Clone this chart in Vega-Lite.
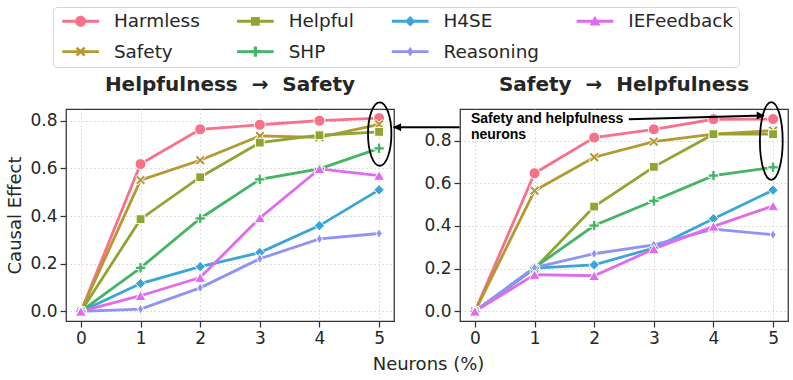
{
  "$schema": "https://vega.github.io/schema/vega-lite/v6.json",
  "background": "white",
  "padding": {"left": 6, "top": 6, "right": 5, "bottom": 6},
  "datasets": {
    "main": [
      {"panel": "L", "series": "Harmless", "x": 0, "y": 0},
      {"panel": "L", "series": "Harmless", "x": 1, "y": 0.618},
      {"panel": "L", "series": "Harmless", "x": 2, "y": 0.764},
      {"panel": "L", "series": "Harmless", "x": 3, "y": 0.783},
      {"panel": "L", "series": "Harmless", "x": 4, "y": 0.8},
      {"panel": "L", "series": "Harmless", "x": 5, "y": 0.811},
      {"panel": "L", "series": "Safety", "x": 0, "y": 0},
      {"panel": "L", "series": "Safety", "x": 1, "y": 0.551},
      {"panel": "L", "series": "Safety", "x": 2, "y": 0.634},
      {"panel": "L", "series": "Safety", "x": 3, "y": 0.736},
      {"panel": "L", "series": "Safety", "x": 4, "y": 0.73},
      {"panel": "L", "series": "Safety", "x": 5, "y": 0.785},
      {"panel": "L", "series": "Helpful", "x": 0, "y": 0},
      {"panel": "L", "series": "Helpful", "x": 1, "y": 0.387},
      {"panel": "L", "series": "Helpful", "x": 2, "y": 0.563},
      {"panel": "L", "series": "Helpful", "x": 3, "y": 0.708},
      {"panel": "L", "series": "Helpful", "x": 4, "y": 0.739},
      {"panel": "L", "series": "Helpful", "x": 5, "y": 0.753},
      {"panel": "L", "series": "SHP", "x": 0, "y": 0},
      {"panel": "L", "series": "SHP", "x": 1, "y": 0.183},
      {"panel": "L", "series": "SHP", "x": 2, "y": 0.39},
      {"panel": "L", "series": "SHP", "x": 3, "y": 0.554},
      {"panel": "L", "series": "SHP", "x": 4, "y": 0.598},
      {"panel": "L", "series": "SHP", "x": 5, "y": 0.684},
      {"panel": "L", "series": "H4SE", "x": 0, "y": 0},
      {"panel": "L", "series": "H4SE", "x": 1, "y": 0.117},
      {"panel": "L", "series": "H4SE", "x": 2, "y": 0.188},
      {"panel": "L", "series": "H4SE", "x": 3, "y": 0.247},
      {"panel": "L", "series": "H4SE", "x": 4, "y": 0.36},
      {"panel": "L", "series": "H4SE", "x": 5, "y": 0.51},
      {"panel": "L", "series": "Reasoning", "x": 0, "y": 0},
      {"panel": "L", "series": "Reasoning", "x": 1, "y": 0.01},
      {"panel": "L", "series": "Reasoning", "x": 2, "y": 0.099},
      {"panel": "L", "series": "Reasoning", "x": 3, "y": 0.221},
      {"panel": "L", "series": "Reasoning", "x": 4, "y": 0.304},
      {"panel": "L", "series": "Reasoning", "x": 5, "y": 0.327},
      {"panel": "L", "series": "IEFeedback", "x": 0, "y": 0},
      {"panel": "L", "series": "IEFeedback", "x": 1, "y": 0.066},
      {"panel": "L", "series": "IEFeedback", "x": 2, "y": 0.142},
      {"panel": "L", "series": "IEFeedback", "x": 3, "y": 0.392},
      {"panel": "L", "series": "IEFeedback", "x": 4, "y": 0.598},
      {"panel": "L", "series": "IEFeedback", "x": 5, "y": 0.57},
      {"panel": "R", "series": "Harmless", "x": 0, "y": 0},
      {"panel": "R", "series": "Harmless", "x": 1, "y": 0.647},
      {"panel": "R", "series": "Harmless", "x": 2, "y": 0.814},
      {"panel": "R", "series": "Harmless", "x": 3, "y": 0.853},
      {"panel": "R", "series": "Harmless", "x": 4, "y": 0.9},
      {"panel": "R", "series": "Harmless", "x": 5, "y": 0.901},
      {"panel": "R", "series": "Safety", "x": 0, "y": 0},
      {"panel": "R", "series": "Safety", "x": 1, "y": 0.565},
      {"panel": "R", "series": "Safety", "x": 2, "y": 0.722},
      {"panel": "R", "series": "Safety", "x": 3, "y": 0.795},
      {"panel": "R", "series": "Safety", "x": 4, "y": 0.83},
      {"panel": "R", "series": "Safety", "x": 5, "y": 0.847},
      {"panel": "R", "series": "Helpful", "x": 0, "y": 0},
      {"panel": "R", "series": "Helpful", "x": 1, "y": 0.2},
      {"panel": "R", "series": "Helpful", "x": 2, "y": 0.491},
      {"panel": "R", "series": "Helpful", "x": 3, "y": 0.677},
      {"panel": "R", "series": "Helpful", "x": 4, "y": 0.83},
      {"panel": "R", "series": "Helpful", "x": 5, "y": 0.83},
      {"panel": "R", "series": "SHP", "x": 0, "y": 0},
      {"panel": "R", "series": "SHP", "x": 1, "y": 0.205},
      {"panel": "R", "series": "SHP", "x": 2, "y": 0.402},
      {"panel": "R", "series": "SHP", "x": 3, "y": 0.518},
      {"panel": "R", "series": "SHP", "x": 4, "y": 0.636},
      {"panel": "R", "series": "SHP", "x": 5, "y": 0.675},
      {"panel": "R", "series": "H4SE", "x": 0, "y": 0},
      {"panel": "R", "series": "H4SE", "x": 1, "y": 0.203},
      {"panel": "R", "series": "H4SE", "x": 2, "y": 0.218},
      {"panel": "R", "series": "H4SE", "x": 3, "y": 0.297},
      {"panel": "R", "series": "H4SE", "x": 4, "y": 0.434},
      {"panel": "R", "series": "H4SE", "x": 5, "y": 0.568},
      {"panel": "R", "series": "Reasoning", "x": 0, "y": 0},
      {"panel": "R", "series": "Reasoning", "x": 1, "y": 0.205},
      {"panel": "R", "series": "Reasoning", "x": 2, "y": 0.27},
      {"panel": "R", "series": "Reasoning", "x": 3, "y": 0.312},
      {"panel": "R", "series": "Reasoning", "x": 4, "y": 0.385},
      {"panel": "R", "series": "Reasoning", "x": 5, "y": 0.359},
      {"panel": "R", "series": "IEFeedback", "x": 0, "y": 0},
      {"panel": "R", "series": "IEFeedback", "x": 1, "y": 0.172},
      {"panel": "R", "series": "IEFeedback", "x": 2, "y": 0.167},
      {"panel": "R", "series": "IEFeedback", "x": 3, "y": 0.292},
      {"panel": "R", "series": "IEFeedback", "x": 4, "y": 0.398},
      {"panel": "R", "series": "IEFeedback", "x": 5, "y": 0.494}
    ]
  },
  "resolve": {"scale": {"x": "independent", "y": "independent", "color": "shared", "shape": "shared"}},
  "bounds": "flush",
  "spacing": 66,
  "title": {
    "text": "Neurons (%)",
    "orient": "bottom",
    "anchor": "middle",
    "frame": "bounds",
    "dx": 31,
    "font": "DejaVu Sans",
    "fontSize": 18,
    "fontWeight": "normal",
    "color": "#262626",
    "baseline": "alphabetic",
    "offset": 23
  },
  "hconcat": [
    {
      "width": 328,
      "height": 212,
      "title": {"text": "Helpfulness\u00a0\u00a0→\u00a0\u00a0Safety"},
      "layer": [
        {
          "data": {"name": "main"},
          "transform": [{"filter": "datum.panel === 'L'"}],
          "mark": {"type": "line", "strokeWidth": 2.8},
          "encoding": {
            "x": {"field": "x", "type": "quantitative", "scale": {"domain": [-0.25, 5.25], "nice": false, "zero": false}, "axis": {"values": [0, 1, 2, 3, 4, 5], "title": null, "format": "d"}},
            "y": {"field": "y", "type": "quantitative", "scale": {"domain": [-0.04, 0.849], "nice": false, "zero": false}, "axis": {"values": [0, 0.2, 0.4, 0.6, 0.8], "format": ".1f", "title": "Causal Effect"}},
            "color": {"field": "series", "type": "nominal",
              "scale": {"domain": ["Harmless", "Helpful", "H4SE", "IEFeedback", "Safety", "SHP", "Reasoning"], "range": ["#f7718a", "#8fa531", "#3aa5d6", "#df6cf0", "#b5982f", "#45b464", "#8f93f3"]},
              "legend": {
                "encode": {
                  "symbols": {
                    "update": {
                      "shape": {"signal": "datum.value==='Harmless'?'M-2.04,-0.16H2.04V0.16H-2.04Z M-0.61,0A0.61,0.61,0,1,1,0.61,0A0.61,0.61,0,1,1,-0.61,0Z':datum.value==='Safety'?'M-2.04,-0.16H2.04V0.16H-2.04Z M-0.55,-0.34L-0.34,-0.55L0,-0.21L0.34,-0.55L0.55,-0.34L0.21,0L0.55,0.34L0.34,0.55L0,0.21L-0.34,0.55L-0.55,0.34L-0.21,0Z':datum.value==='Helpful'?'M-2.04,-0.16H2.04V0.16H-2.04Z M-0.49,-0.49H0.49V0.49H-0.49Z':datum.value==='SHP'?'M-2.04,-0.16H2.04V0.16H-2.04Z M-0.18,-0.58H0.18V-0.18H0.58V0.18H0.18V0.58H-0.18V0.18H-0.58V-0.18H-0.18Z':datum.value==='H4SE'?'M-2.04,-0.16H2.04V0.16H-2.04Z M0,-0.58L0.58,0L0,0.58L-0.58,0Z':datum.value==='Reasoning'?'M-2.04,-0.16H2.04V0.16H-2.04Z M0,-0.55L0.34,0L0,0.55L-0.34,0Z':'M-2.04,-0.16H2.04V0.16H-2.04Z M0,-0.61L0.61,0.46L-0.61,0.46Z'"},
                      "size": {"value": 324},
                      "fill": {"scale": "color", "field": "value"},
                      "stroke": {"value": "transparent"},
                      "strokeWidth": {"value": 0},
                      "opacity": {"value": 1}
                    }
                  }
                }
              }
            }
          }
        },
        {
          "data": {"name": "main"},
          "transform": [{"filter": "datum.panel === 'L'"}],
          "mark": {"type": "point", "filled": true, "size": 121, "stroke": "white", "strokeWidth": 1, "opacity": 1},
          "encoding": {
            "x": {"field": "x", "type": "quantitative"},
            "y": {"field": "y", "type": "quantitative"},
            "color": {"field": "series", "type": "nominal"},
            "shape": {"field": "series", "type": "nominal",
              "scale": {"domain": ["Harmless", "Safety", "Helpful", "SHP", "H4SE", "Reasoning", "IEFeedback"],
                "range": ["circle", "M-0.9,-0.55L-0.55,-0.9L0,-0.35L0.55,-0.9L0.9,-0.55L0.35,0L0.9,0.55L0.55,0.9L0,0.35L-0.55,0.9L-0.9,0.55L-0.35,0Z", "M-0.8,-0.8H0.8V0.8H-0.8Z", "M-0.3,-0.95H0.3V-0.3H0.95V0.3H0.3V0.95H-0.3V0.3H-0.95V-0.3H-0.3Z", "M0,-0.95L0.95,0L0,0.95L-0.95,0Z", "M0,-0.9L0.55,0L0,0.9L-0.55,0Z", "triangle-up"]},
              "legend": null}
          }
        },
        {
          "data": {"values": [{"x": 5.01, "y": 0.744}]},
          "mark": {"type": "point", "shape": "M-0.369,0A0.369,1,0,1,1,0.369,0A0.369,1,0,1,1,-0.369,0Z", "size": 4020, "filled": false, "stroke": "black", "strokeWidth": 1.8, "opacity": 1},
          "encoding": {"x": {"field": "x", "type": "quantitative"}, "y": {"field": "y", "type": "quantitative"}}
        },
        {
          "data": {"values": [{"x": 5.24, "y": 0.772}, {"x": 6.35, "y": 0.772}]},
          "mark": {"type": "line", "color": "black", "strokeWidth": 2},
          "encoding": {"x": {"field": "x", "type": "quantitative"}, "y": {"field": "y", "type": "quantitative"}}
        },
        {
          "data": {"values": [{"x": 5.234, "y": 0.772}]},
          "mark": {"type": "point", "shape": "M0,0L2,-1L2,1Z", "size": 64, "filled": true, "color": "black", "opacity": 1},
          "encoding": {"x": {"field": "x", "type": "quantitative"}, "y": {"field": "y", "type": "quantitative"}}
        }
      ]
    },
    {
      "width": 328,
      "height": 212,
      "title": {"text": "Safety\u00a0\u00a0→\u00a0\u00a0Helpfulness"},
      "layer": [
        {
          "data": {"name": "main"},
          "transform": [{"filter": "datum.panel === 'R'"}],
          "mark": {"type": "line", "strokeWidth": 2.8},
          "encoding": {
            "x": {"field": "x", "type": "quantitative", "scale": {"domain": [-0.25, 5.25], "nice": false, "zero": false}, "axis": {"values": [0, 1, 2, 3, 4, 5], "title": null, "format": "d"}},
            "y": {"field": "y", "type": "quantitative", "scale": {"domain": [-0.045, 0.948], "nice": false, "zero": false}, "axis": {"values": [0, 0.2, 0.4, 0.6, 0.8], "format": ".1f", "title": null}},
            "color": {"field": "series", "type": "nominal"}
          }
        },
        {
          "data": {"name": "main"},
          "transform": [{"filter": "datum.panel === 'R'"}],
          "mark": {"type": "point", "filled": true, "size": 121, "stroke": "white", "strokeWidth": 1, "opacity": 1},
          "encoding": {
            "x": {"field": "x", "type": "quantitative"},
            "y": {"field": "y", "type": "quantitative"},
            "color": {"field": "series", "type": "nominal"},
            "shape": {"field": "series", "type": "nominal", "legend": null}
          }
        },
        {
          "data": {"values": [{"x": 4.97, "y": 0.798}]},
          "mark": {"type": "point", "shape": "M-0.293,0A0.293,1,0,1,1,0.293,0A0.293,1,0,1,1,-0.293,0Z", "size": 6053, "filled": false, "stroke": "black", "strokeWidth": 1.8, "opacity": 1},
          "encoding": {"x": {"field": "x", "type": "quantitative"}, "y": {"field": "y", "type": "quantitative"}}
        },
        {
          "data": {"values": [{"x": 2.581, "y": 0.9}, {"x": 4.84, "y": 0.917}]},
          "mark": {"type": "line", "color": "black", "strokeWidth": 2},
          "encoding": {"x": {"field": "x", "type": "quantitative"}, "y": {"field": "y", "type": "quantitative"}}
        },
        {
          "data": {"values": [{"x": 4.86, "y": 0.917}]},
          "mark": {"type": "point", "shape": "M0,0L-2,-1L-2,1Z", "size": 64, "filled": true, "color": "black", "opacity": 1},
          "encoding": {"x": {"field": "x", "type": "quantitative"}, "y": {"field": "y", "type": "quantitative"}}
        },
        {
          "data": {"values": [{"x": -0.067, "y": 0.884, "t": "Safety and helpfulness\nneurons"}]},
          "mark": {"type": "text", "align": "left", "baseline": "alphabetic", "font": "Liberation Sans", "fontWeight": "bold", "fontSize": 14, "lineBreak": "\n", "lineHeight": 16.6, "color": "black"},
          "encoding": {"x": {"field": "x", "type": "quantitative"}, "y": {"field": "y", "type": "quantitative"}, "text": {"field": "t"}}
        }
      ]
    }
  ],
  "config": {
    "view": {"stroke": "#333333", "strokeWidth": 1.25},
    "axis": {
      "domain": false,
      "grid": true,
      "gridColor": "#cfcfcf",
      "gridDash": [1.5, 2.5],
      "gridWidth": 0.9,
      "tickColor": "#333333",
      "tickSize": 6,
      "tickWidth": 1.25,
      "labelFont": "DejaVu Sans",
      "labelFontSize": 17,
      "labelColor": "#262626",
      "labelPadding": 3,
      "titleFont": "DejaVu Sans",
      "titleFontSize": 18,
      "titleFontWeight": "normal",
      "titleColor": "#262626",
      "titlePadding": 5
    },
    "title": {"font": "DejaVu Sans", "fontSize": 20, "fontWeight": "bold", "color": "#262626", "anchor": "middle", "baseline": "alphabetic", "offset": 4},
    "legend": {
      "orient": "none",
      "legendX": -13,
      "legendY": -102,
      "columns": 4,
      "direction": "horizontal",
      "title": null,
      "labelFont": "DejaVu Sans",
      "labelFontSize": 18.4,
      "labelColor": "#262626",
      "symbolSize": 324,
      "clipHeight": 16,
      "rowPadding": 11.6,
      "columnPadding": 33.8,
      "labelOffset": 24.1,
      "symbolOffset": 12.4,
      "padding": 6,
      "strokeColor": "#d6d6d6",
      "fillColor": "white",
      "cornerRadius": 4
    }
  }
}
